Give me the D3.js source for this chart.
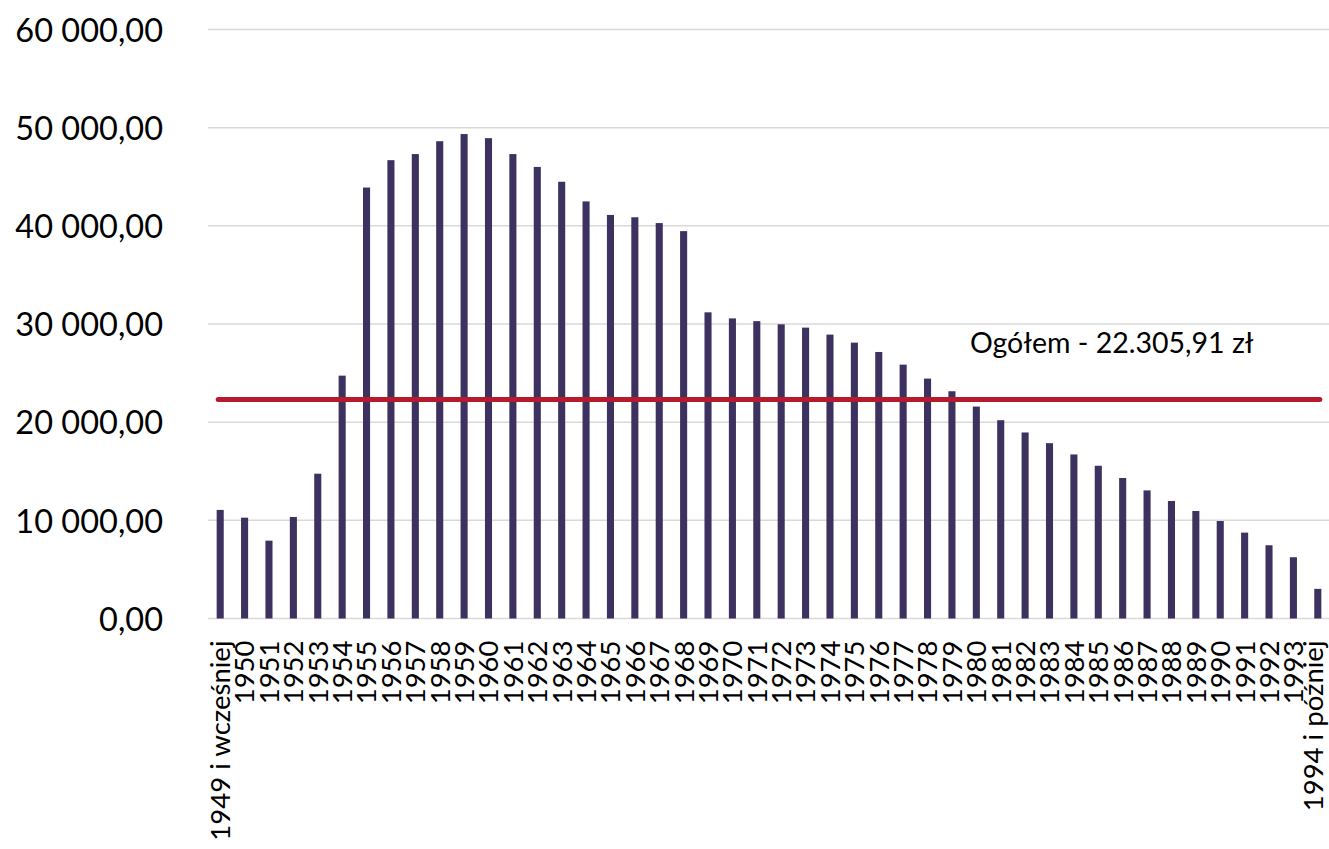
<!DOCTYPE html>
<html>
<head>
<meta charset="utf-8">
<script src="https://cdn.jsdelivr.net/npm/d3@7"></script>
<style>
  html, body { margin: 0; padding: 0; background: #ffffff; }
  svg { display: block; }
</style>
</head>
<body>
<svg id="chart" width="1329" height="849"></svg>
<script>
const categories = ["1949 i wcześniej","1950","1951","1952","1953","1954","1955","1956","1957","1958","1959","1960","1961","1962","1963","1964","1965","1966","1967","1968","1969","1970","1971","1972","1973","1974","1975","1976","1977","1978","1979","1980","1981","1982","1983","1984","1985","1986","1987","1988","1989","1990","1991","1992","1993","1994 i później"];
const values = [11060,10270,7930,10340,14750,24740,43900,46690,47310,48620,49350,48930,47310,46000,44490,42490,41110,40870,40280,39460,31190,30570,30290,29970,29630,28920,28100,27150,25860,24440,23150,21590,20200,18950,17860,16710,15560,14310,13050,11970,10950,9930,8750,7460,6240,3020];
const average = 22305.91;
const averageLabel = "Ogółem - 22.305,91 zł";
const yTicks = [0,10000,20000,30000,40000,50000,60000];

const FONT = "Lato, 'Open Sans', sans-serif";
const svg = d3.select("#chart");

const x = d3.scaleBand().domain(categories).range([208, 1330]).paddingInner(0.71).paddingOuter(0.355);
const y = d3.scaleLinear().domain([0, 60000]).range([618.5, 29.5]);

const fmt = v => {
  const s = d3.format(",.2f")(v);
  return s.replace(/,/g, " ").replace(".", ",");
};

// gridlines
svg.append("g").selectAll("line").data(yTicks).join("line")
  .attr("x1", 208).attr("x2", 1329)
  .attr("y1", d => y(d)).attr("y2", d => y(d))
  .attr("stroke", "#d9d9d9").attr("stroke-width", 1.5);

// y axis labels
const yAxis = d3.axisLeft(y).tickValues(yTicks).tickFormat(fmt).tickSize(0).tickPadding(0);
const yg = svg.append("g").attr("transform", "translate(163,0)").call(yAxis);
yg.select(".domain").remove();
yg.selectAll("text").attr("font-family", FONT).attr("font-size", 32.5).attr("fill", "#000").attr("dy", "0.36em");

// bars
svg.append("g").selectAll("rect").data(values).join("rect")
  .attr("x", (d, i) => x(categories[i]))
  .attr("width", x.bandwidth())
  .attr("y", d => y(d))
  .attr("height", d => y(0) - y(d))
  .attr("fill", "#3d3160");

// x axis labels
const xAxis = d3.axisBottom(x).tickSize(0).tickPadding(0);
const xg = svg.append("g").attr("transform", `translate(0,${y(0)})`).call(xAxis);
xg.select(".domain").remove();
xg.selectAll("text")
  .attr("font-family", FONT).attr("font-size", 27.5).attr("fill", "#000")
  .attr("text-anchor", "end")
  .attr("transform", "rotate(-90)")
  .attr("x", -22).attr("y", 0)
  .attr("dy", (d, i) => i === categories.length - 1 ? "0.19em" : "0.36em");

// average line
const first = categories[0], last = categories[categories.length - 1];
svg.append("line")
  .attr("x1", x(first) + x.bandwidth() / 2 - 2)
  .attr("x2", x(last) + x.bandwidth() / 2 + 2)
  .attr("y1", y(average)).attr("y2", y(average))
  .attr("stroke", "#b61a2c").attr("stroke-width", 5).attr("stroke-linecap", "round");

svg.append("text")
  .attr("x", 970).attr("y", 353)
  .attr("font-family", FONT).attr("font-size", 28.5).attr("fill", "#000")
  .text(averageLabel);
</script>
</body>
</html>
